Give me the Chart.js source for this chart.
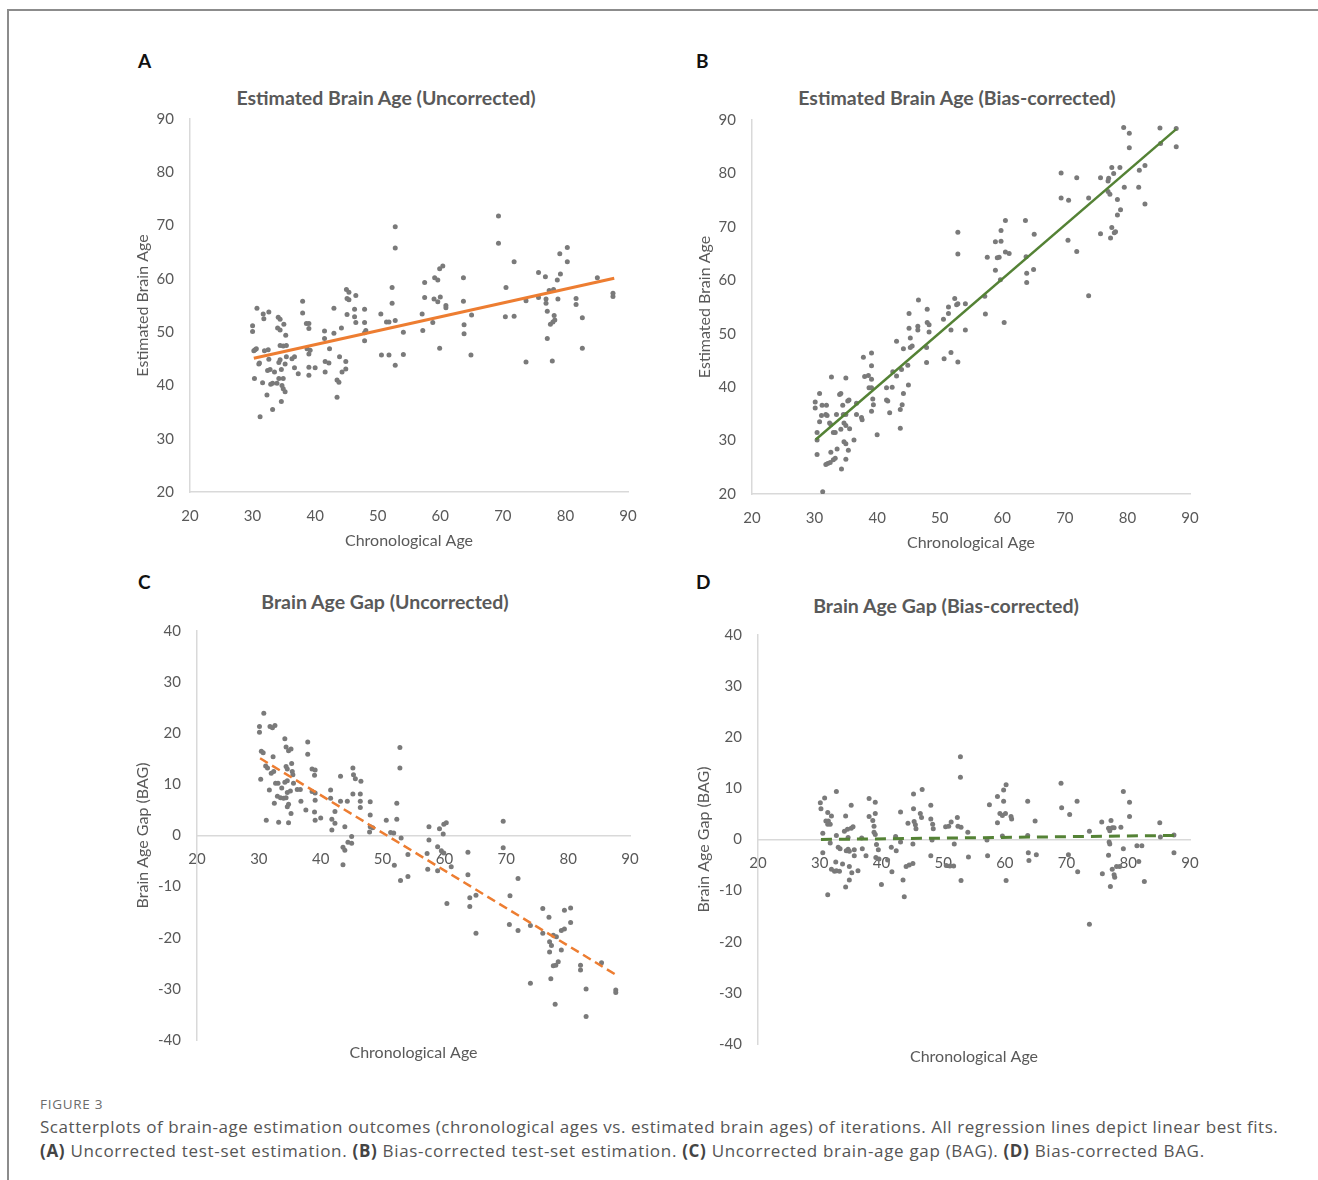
<!DOCTYPE html>
<html>
<head>
<meta charset="utf-8">
<script src="https://cdn.jsdelivr.net/npm/chart.js@4.4.1/dist/chart.umd.min.js"></script>
<style>
  body { margin: 0; background: #fff; }
  #page { position: relative; width: 1318px; height: 1180px; overflow: hidden; }
  #frame { position: absolute; left: 7px; top: 9px; width: 1400px; height: 1300px;
           border-left: 2px solid #8c8c8c; border-top: 2px solid #8c8c8c; }
  canvas { position: absolute; }
  .letter { position: absolute; font: bold 19px Lato, sans-serif; color: #111; line-height: 22px; }
  .ptitle { position: absolute; width: 600px; text-align: center; font: bold 19.5px Lato, sans-serif;
            color: #595959; line-height: 22px; }
  #fig { position: absolute; left: 40px; top: 1095px; font: 13.5px "Open Sans", sans-serif; color: #6b6b6b; letter-spacing: 0.7px; }
  .cap { position: absolute; left: 40px; font: 17px "Open Sans", sans-serif; color: #555; white-space: nowrap; line-height: 20px; }
  .cap b { color: #444; }
</style>
</head>
<body>
<div id="page">
  <div id="frame"></div>

  <div class="letter" style="left:138px; top:50px;">A</div>
  <div class="letter" style="left:696px; top:50px;">B</div>
  <div class="letter" style="left:138px; top:571px;">C</div>
  <div class="letter" style="left:696px; top:571px;">D</div>

  <div class="ptitle" style="left:86px; top:87px;">Estimated Brain Age (Uncorrected)</div>
  <div class="ptitle" style="left:657px; top:87px;">Estimated Brain Age (Bias-corrected)</div>
  <div class="ptitle" style="left:85px; top:591px;">Brain Age Gap (Uncorrected)</div>
  <div class="ptitle" style="left:646px; top:595px;">Brain Age Gap (Bias-corrected)</div>

  <canvas id="chartA" width="517" height="445" style="left:125px; top:107px;"></canvas>
  <canvas id="chartB" width="517" height="446" style="left:687px; top:108px;"></canvas>
  <canvas id="chartC" width="519" height="451" style="left:125px; top:619px;"></canvas>
  <canvas id="chartD" width="518" height="451" style="left:686px; top:623px;"></canvas>

  <div id="fig">FIGURE 3</div>
  <div class="cap" style="top:1117px; letter-spacing:0.55px;">Scatterplots of brain-age estimation outcomes (chronological ages vs. estimated brain ages) of iterations. All regression lines depict linear best fits.</div>
  <div class="cap" style="top:1141px; letter-spacing:0.68px;"><b>(A)</b> Uncorrected test-set estimation. <b>(B)</b> Bias-corrected test-set estimation. <b>(C)</b> Uncorrected brain-age gap (BAG). <b>(D)</b> Bias-corrected BAG.</div>
</div>

<script>
// Panel A - estimated brain age, uncorrected
const ageA = [30.0, 30.0, 30.7, 30.4, 30.6, 30.2, 30.3, 31.1, 31.0, 31.2, 31.6, 31.7, 31.8, 31.9, 32.3, 32.5, 32.6, 32.6, 32.4, 32.8,
  32.9, 33.2, 33.2, 33.5, 33.9, 34.1, 34.4, 34.0, 34.4, 34.4, 34.9, 34.2, 34.4, 34.2, 34.9, 34.6, 34.6, 34.7, 34.9, 35.0,
  35.2, 35.2, 35.3, 35.4, 35.4, 36.3, 36.7, 36.7, 37.3, 38.0, 38.0, 38.6, 39.0, 39.0, 38.7, 39.2, 39.0, 39.0, 39.0, 40.0,
  41.5, 41.5, 41.6, 42.2, 41.6, 42.3, 43.0, 43.0, 43.5, 43.8, 43.5, 43.9, 44.2, 44.3, 44.9, 44.9, 45.0, 45.4, 45.1, 45.4,
  45.1, 46.5, 46.3, 46.3, 46.5, 47.9, 47.9, 47.9, 48.1, 47.9, 50.5, 50.6, 51.4, 51.8, 51.8, 52.3, 52.3, 52.8, 52.8, 52.8,
  52.8, 54.1, 54.1, 57.1, 57.2, 57.5, 57.5, 58.8, 59.1, 59.6, 59.9, 60.4, 59.0, 59.6, 60.0, 59.9, 60.9, 60.9, 63.7, 63.7,
  63.8, 63.8, 65.0, 64.9, 69.3, 69.3, 70.5, 70.4, 71.8, 71.8, 73.7, 73.7, 75.7, 75.7, 76.8, 76.9, 76.9, 77.1, 77.1, 77.4,
  78.1, 77.6, 78.0, 78.3, 77.9, 78.2, 78.7, 78.8, 79.2, 79.1, 80.3, 80.3, 81.7, 81.7, 82.7, 82.7, 85.1, 87.6, 87.6];
const estA = [51.2, 50.1, 54.5, 46.7, 46.9, 46.5, 41.3, 44.2, 44.0, 34.1, 40.5, 53.4, 52.5, 46.5, 38.2, 46.7, 44.9, 53.8, 42.8, 43.0,
  40.2, 40.4, 35.5, 42.5, 40.4, 52.8, 52.4, 50.8, 50.4, 47.5, 47.4, 44.3, 44.8, 41.3, 41.3, 43.0, 37.0, 40.0, 39.4, 51.5,
  38.8, 44.0, 49.4, 47.5, 45.4, 45.0, 45.4, 43.3, 42.2, 55.8, 53.6, 51.6, 51.6, 50.7, 46.9, 46.6, 45.9, 43.4, 41.9, 43.3,
  50.2, 48.8, 44.5, 44.2, 42.5, 46.9, 54.5, 49.8, 41.0, 40.6, 37.8, 45.4, 50.8, 42.5, 44.5, 43.1, 58.0, 57.5, 56.3, 56.1,
  53.3, 56.9, 54.3, 52.9, 51.8, 54.3, 51.8, 49.9, 50.3, 48.4, 53.4, 45.7, 51.9, 51.9, 45.7, 58.4, 55.4, 69.8, 65.8, 52.2,
  43.8, 50.0, 45.8, 53.4, 50.3, 59.3, 56.5, 51.8, 60.2, 59.8, 61.9, 62.4, 56.2, 55.7, 56.6, 47.0, 55.0, 54.6, 60.2, 55.8,
  51.4, 49.7, 53.2, 45.7, 71.8, 66.7, 58.4, 52.9, 63.2, 53.0, 44.4, 55.9, 61.2, 56.5, 60.4, 56.2, 55.4, 53.9, 48.8, 57.8,
  58.0, 51.5, 51.9, 52.3, 44.6, 53.1, 59.8, 56.2, 60.9, 64.7, 63.2, 65.9, 56.3, 55.2, 52.7, 47.0, 60.2, 57.3, 56.7];
const fitAgeA = [30.2, 87.8];
const fitEstA = [45.1, 60.1];

// Panel B - estimated brain age, bias-corrected
const ageB = [30.1, 30.1, 30.4, 30.4, 30.4, 30.8, 30.8, 31.1, 31.2, 31.9, 31.3, 31.8, 32.0, 31.8, 32.1, 32.5, 32.4, 32.6, 32.7, 32.6,
  33.0, 33.3, 33.0, 33.3, 33.5, 33.6, 34.0, 34.2, 34.2, 34.3, 34.5, 34.6, 35.0, 34.7, 35.0, 34.7, 35.0, 35.0, 35.0, 35.3,
  35.5, 35.4, 35.6, 36.3, 36.7, 36.7, 37.5, 37.6, 37.8, 38.0, 38.6, 38.7, 39.1, 39.1, 39.1, 39.1, 39.3, 39.4, 39.1, 40.0,
  41.5, 42.4, 41.5, 41.7, 42.0, 42.5, 43.1, 43.1, 43.7, 43.7, 43.9, 44.0, 44.2, 44.2, 44.9, 45.0, 45.1, 45.1, 45.3, 45.3,
  45.6, 46.5, 46.5, 46.6, 47.9, 47.9, 48.0, 48.0, 48.3, 48.3, 50.6, 50.7, 51.4, 51.4, 51.8, 51.8, 52.4, 52.7, 52.9, 52.9,
  52.9, 52.9, 54.1, 54.1, 57.2, 57.3, 57.6, 58.9, 58.9, 59.2, 59.5, 59.7, 59.8, 59.8, 60.3, 60.5, 60.5, 61.1, 63.7, 63.8,
  63.9, 63.9, 65.1, 65.0, 69.4, 69.4, 70.6, 70.5, 71.9, 71.9, 73.8, 73.8, 75.7, 75.7, 76.9, 77.0, 76.9, 77.2, 77.3, 77.5,
  77.8, 77.5, 77.9, 78.1, 78.4, 78.4, 78.8, 78.9, 79.4, 79.5, 80.3, 80.3, 81.8, 81.9, 82.8, 82.8, 85.2, 85.3, 87.8, 87.8];
const estB = [37.2, 36.1, 31.5, 30.1, 27.4, 38.8, 33.5, 34.7, 36.6, 36.6, 20.4, 34.9, 34.7, 25.5, 25.7, 25.9, 33.3, 33.0, 41.9, 27.8,
  31.5, 31.5, 26.4, 26.7, 34.9, 28.4, 38.6, 38.8, 32.1, 24.7, 36.6, 34.9, 34.9, 33.3, 32.8, 29.8, 29.4, 26.5, 41.7, 37.4,
  37.6, 28.2, 32.2, 30.1, 37.0, 34.9, 34.3, 33.9, 45.6, 42.0, 42.2, 39.9, 39.9, 46.4, 44.0, 41.5, 37.8, 36.7, 35.5, 31.1,
  39.9, 40.0, 37.6, 37.4, 35.2, 42.9, 48.6, 42.1, 35.8, 32.3, 43.3, 36.7, 47.2, 38.8, 44.1, 40.4, 53.8, 51.0, 49.2, 47.4,
  47.7, 51.4, 50.7, 56.3, 47.4, 44.6, 54.6, 52.1, 51.7, 50.3, 52.7, 45.3, 55.0, 53.8, 50.7, 46.5, 56.6, 55.4, 55.6, 69.0,
  64.9, 44.7, 55.6, 50.7, 57.0, 53.7, 64.3, 67.2, 61.9, 64.2, 64.3, 60.1, 67.3, 69.3, 52.1, 71.2, 65.3, 65.0, 71.2, 64.4,
  61.3, 59.6, 68.6, 62.0, 80.1, 75.4, 75.0, 67.5, 79.2, 65.4, 75.4, 57.1, 79.2, 68.7, 78.6, 79.1, 76.6, 76.1, 67.9, 81.1,
  80.0, 69.9, 68.9, 69.1, 75.1, 72.2, 81.1, 73.2, 88.6, 77.4, 87.5, 84.8, 77.4, 80.6, 81.5, 74.3, 88.5, 85.6, 88.4, 85.0];
const fitAgeB = [30.2, 87.8];
const fitEstB = [30.2, 88.3];

// Panel C - brain age gap, uncorrected
const ageC = [30.1, 30.1, 30.4, 30.7, 30.3, 30.8, 31.1, 31.4, 31.2, 31.7, 31.8, 32.2, 32.6, 32.0, 32.4, 32.3, 32.5, 32.7, 33.1, 33.0,
  33.5, 33.2, 33.7, 34.0, 34.4, 34.2, 34.4, 34.8, 34.4, 34.6, 34.2, 34.6, 34.6, 34.6, 34.8, 34.8, 35.2, 35.3, 35.4, 35.5,
  35.2, 35.1, 36.2, 36.7, 35.6, 36.8, 37.6, 37.9, 37.9, 38.6, 39.1, 39.0, 38.6, 39.1, 39.1, 39.0, 39.1, 40.0, 41.6, 41.6,
  41.8, 41.8, 42.3, 42.3, 43.2, 43.2, 43.6, 43.9, 43.6, 43.9, 44.3, 44.4, 45.0, 45.0, 45.2, 45.3, 45.6, 45.2, 46.5, 46.4,
  46.4, 46.4, 48.0, 48.0, 48.0, 48.4, 47.9, 50.6, 51.3, 51.8, 51.9, 52.3, 52.3, 52.8, 52.8, 53.0, 52.9, 54.1, 54.1, 57.2,
  57.3, 57.5, 57.5, 58.9, 58.9, 59.2, 59.5, 59.9, 59.8, 59.9, 60.3, 60.4, 61.1, 63.8, 63.8, 64.1, 64.1, 65.1, 65.1, 69.5,
  69.5, 70.6, 70.5, 71.9, 71.9, 73.9, 73.9, 75.9, 75.9, 76.9, 77.0, 77.3, 77.0, 77.2, 77.6, 78.1, 77.6, 78.0, 78.4, 77.9,
  78.9, 78.9, 79.4, 79.4, 80.4, 80.4, 82.0, 82.0, 82.9, 82.9, 85.4, 87.7, 87.7];
const gapC = [21.3, 20.2, 16.5, 16.2, 11.0, 23.9, 13.6, 13.2, 3.0, 8.9, 21.3, 21.1, 21.5, 12.2, 12.5, 15.4, 6.3, 10.2, 10.2, 7.7,
  7.4, 2.6, 9.3, 7.3, 7.4, 18.9, 17.3, 16.6, 13.5, 13.0, 10.4, 10.7, 8.4, 5.6, 6.1, 2.5, 16.9, 14.1, 12.5, 11.9,
  4.3, 8.7, 9.0, 9.0, 10.2, 6.7, 5.0, 18.3, 15.9, 13.0, 12.8, 11.8, 8.6, 8.3, 6.9, 4.6, 3.0, 3.4, 8.9, 7.3,
  3.2, 1.1, 4.7, 2.4, 11.6, 6.7, -2.3, -2.9, -5.7, 1.7, 6.7, -1.3, -0.2, -1.5, 13.2, 11.9, 11.1, 8.1, 10.6, 8.1,
  6.7, 5.5, 6.6, 4.0, 1.7, 1.5, 0.7, 3.0, 0.6, 0.5, -5.8, 6.3, 3.2, 17.2, 13.2, -0.5, -8.8, -3.7, -8.0, -3.5,
  -6.6, 1.7, -0.9, -2.2, -6.9, 1.3, -3.0, -3.4, 0.3, 2.2, 2.5, -13.3, -6.1, -3.3, -7.7, -12.2, -13.9, -11.7, -19.1, 2.8,
  -2.4, -11.8, -17.4, -8.4, -18.6, -17.6, -28.9, -14.3, -19.1, -16.0, -20.8, -21.5, -22.8, -28.0, -19.5, -19.8, -25.5, -25.4, -24.7, -33.0,
  -22.4, -18.6, -18.3, -14.6, -14.2, -17.0, -25.4, -26.3, -30.0, -35.4, -24.9, -30.2, -30.7];
const fitAgeC = [30.2, 87.8];
const fitGapC = [15.1, -27.3];

// Panel D - brain age gap, bias-corrected
const ageD = [30.1, 30.2, 30.5, 30.5, 30.8, 31.0, 31.4, 31.3, 31.3, 31.7, 31.3, 31.7, 31.9, 32.4, 32.7, 33.2, 31.9, 32.7, 32.7, 32.6,
  33.0, 33.3, 33.7, 34.0, 34.2, 34.2, 34.3, 34.6, 34.8, 34.5, 34.6, 34.8, 34.8, 35.1, 35.1, 35.2, 35.4, 35.6, 35.6, 36.2,
  36.8, 36.9, 37.5, 38.0, 38.0, 38.6, 39.0, 39.0, 38.8, 38.8, 39.0, 39.2, 39.5, 39.1, 39.6, 40.0, 41.0, 41.6, 41.7, 42.3,
  42.4, 43.1, 43.1, 43.5, 43.7, 44.0, 44.3, 44.5, 45.1, 45.1, 45.2, 45.2, 45.3, 45.5, 45.6, 46.3, 46.5, 46.6, 48.0, 48.0,
  48.0, 48.2, 48.3, 48.4, 50.4, 50.9, 50.5, 51.1, 51.3, 51.7, 51.8, 52.3, 52.4, 52.9, 52.8, 52.8, 52.9, 54.0, 54.1, 57.2,
  57.1, 57.5, 58.8, 58.8, 59.2, 59.6, 60.1, 59.8, 59.8, 59.6, 60.2, 60.2, 61.0, 61.1, 63.7, 63.7, 63.8, 63.9, 64.9, 65.1,
  69.1, 69.2, 70.3, 70.5, 71.7, 71.8, 73.7, 73.7, 75.7, 75.8, 76.8, 77.0, 76.9, 77.0, 77.1, 77.2, 77.4, 77.7, 76.8, 77.4,
  77.7, 77.8, 78.1, 78.6, 78.8, 79.2, 79.2, 80.2, 80.2, 81.4, 82.2, 81.7, 82.6, 85.1, 85.2, 87.4, 87.4];
const gapD = [7.2, 6.0, 1.2, -2.6, 8.1, 3.6, 3.6, 5.3, 3.0, 3.0, -10.8, -0.7, -5.8, -6.2, -6.1, -6.2, 4.6, 9.4, 0.8, -4.4,
  -1.5, -1.8, -4.8, 1.6, 4.6, -9.3, -2.2, -1.9, -2.3, 2.0, 0.4, -5.3, -7.9, 6.7, 2.2, -6.5, 2.5, -3.2, -2.0, -6.1,
  0.3, -1.8, -3.2, 8.0, 4.5, 3.7, 7.3, 5.1, 2.6, 1.4, 1.0, -1.0, -2.0, -3.5, -3.8, -8.8, -4.0, -1.5, -6.3, 0.6,
  -2.2, 5.4, -0.5, -7.9, -11.2, -5.3, 3.2, -5.0, -0.9, -4.7, 8.9, 6.0, 3.5, 2.9, 2.1, 5.1, 4.3, 9.8, 6.7, 4.0,
  -3.2, -0.1, 3.0, 2.1, 2.5, 2.6, -5.1, -5.2, 3.4, -5.2, -0.9, 4.3, 2.6, 2.4, 16.2, 12.2, -8.0, 1.4, -3.4, -3.2,
  -0.1, 6.8, 8.4, 3.3, 5.1, 4.7, 5.1, 9.7, 7.5, 0.7, 10.7, -8.0, 4.5, 4.0, 7.5, 0.8, -2.6, -4.1, 3.6, -3.0,
  11.0, 6.2, -3.0, 4.9, 7.5, -6.3, 1.6, -16.6, 3.4, -6.7, 2.2, 1.7, -0.5, -0.9, -9.2, 3.7, 2.3, 2.3, -3.1, -5.8,
  -6.9, -7.4, -5.3, -5.3, 2.4, 9.4, -1.8, 7.3, 4.5, -1.2, -1.2, -4.3, -8.2, 3.3, 0.5, 0.9, -2.6];
const fitAgeD = [30.2, 87.6];
const fitGapD = [0.0, 0.8];

const xTicks = { min: 20, max: 90, step: 10 };
const ageTicks = { min: 20, max: 90, step: 10 };
const gapTicks = { min: -40, max: 40, step: 10 };

const textColor = '#595959';
const axisColor = '#d9d9d9';
const dotColor = '#7a7a7a';
const tickFont = { family: 'Lato', size: 15 };
const titleFont = { family: 'Lato', size: 16 };

function toPoints(xs, ys) {
    return xs.map((x, i) => ({ x: x, y: ys[i] }));
}

function brainChart(chartID, cfg) {
    const ctx = document.getElementById(chartID).getContext('2d');
    const scales = {
        x: {
            type: 'linear',
            min: xTicks.min,
            max: xTicks.max,
            position: cfg.zeroAxis ? { y: 0 } : 'bottom',
            ticks: { stepSize: xTicks.step, padding: 15, color: textColor, font: tickFont },
            grid: { display: false, drawTicks: false },
            border: { color: axisColor, width: 1.5 },
            title: { display: !cfg.zeroAxis, text: 'Chronological Age', color: textColor, font: titleFont, padding: { top: 0, bottom: 2 } },
            afterFit: scale => {
                if (!cfg.zeroAxis) scale.height = 60;
                // let the layout padding decide the plot edges
                scale.paddingLeft = 0;
                scale.paddingRight = 0;
            }
        },
        y: {
            type: 'linear',
            min: cfg.yTicks.min,
            max: cfg.yTicks.max,
            ticks: { stepSize: cfg.yTicks.step, padding: 16, color: textColor, font: tickFont },
            grid: { display: false, drawTicks: false },
            border: { color: axisColor, width: 1.5 },
            title: { display: true, text: cfg.yTitle, color: textColor, font: titleFont, padding: { top: 8, bottom: 0 } },
            afterFit: scale => {
                scale.width = cfg.yWidth;
                scale.paddingTop = 0;
                scale.paddingBottom = 0;
            }
        }
    };
    if (cfg.zeroAxis) {
        // empty bottom axis that only carries the axis title
        scales.x2 = {
            type: 'linear',
            position: 'bottom',
            min: xTicks.min,
            max: xTicks.max,
            ticks: { display: false },
            grid: { display: false, drawTicks: false },
            border: { display: false },
            title: { display: true, text: 'Chronological Age', color: textColor, font: titleFont, padding: { top: 0, bottom: 8 } },
            afterFit: scale => {
                scale.height = 30;
                scale.paddingLeft = 0;
                scale.paddingRight = 0;
            }
        };
    }
    new Chart(ctx, {
        type: 'scatter',
        data: {
            datasets: [{
                data: toPoints(cfg.fitX, cfg.fitY),
                showLine: true,
                borderColor: cfg.lineColor,
                borderWidth: cfg.lineWidth,
                borderDash: cfg.dash || [],
                pointRadius: 0,
                fill: false
            }, {
                data: toPoints(cfg.xs, cfg.ys),
                backgroundColor: dotColor,
                borderWidth: 0,
                pointRadius: 2.5
            }]
        },
        options: {
            responsive: false,
            animation: false,
            events: [],
            layout: { padding: { top: 12, right: 14, left: 0, bottom: 0 } },
            plugins: { legend: { display: false }, tooltip: { enabled: false } },
            scales: scales
        }
    });
}

brainChart('chartA', { xs: ageA, ys: estA, fitX: fitAgeA, fitY: fitEstA, yTicks: ageTicks, yTitle: 'Estimated Brain Age',
    yWidth: 65, lineColor: '#ED7D31', lineWidth: 3 });
brainChart('chartB', { xs: ageB, ys: estB, fitX: fitAgeB, fitY: fitEstB, yTicks: ageTicks, yTitle: 'Estimated Brain Age',
    yWidth: 65, lineColor: '#548235', lineWidth: 2.5 });
brainChart('chartC', { xs: ageC, ys: gapC, fitX: fitAgeC, fitY: fitGapC, yTicks: gapTicks, yTitle: 'Brain Age Gap (BAG)',
    yWidth: 72, lineColor: '#ED7D31', lineWidth: 2.5, dash: [9, 5], zeroAxis: true });
brainChart('chartD', { xs: ageD, ys: gapD, fitX: fitAgeD, fitY: fitGapD, yTicks: gapTicks, yTitle: 'Brain Age Gap (BAG)',
    yWidth: 72, lineColor: '#548235', lineWidth: 3, dash: [11, 7], zeroAxis: true });
</script>
</body>
</html>
